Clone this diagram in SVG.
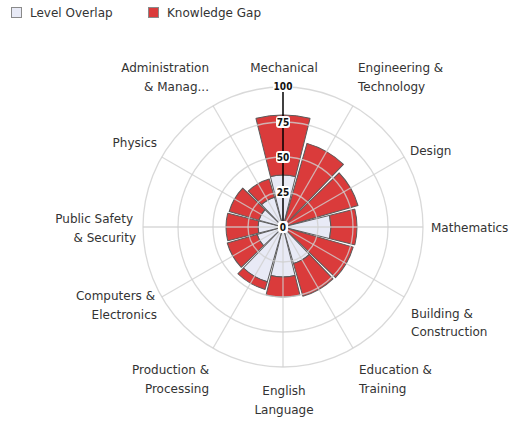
<svg xmlns="http://www.w3.org/2000/svg" width="510" height="422" viewBox="0 0 510 422">
<style>
.lbl{font-family:"DejaVu Sans","Liberation Sans",sans-serif;font-size:12px;fill:#333;}
.lv{fill:#E8EAF6;stroke:#5a5a5a;stroke-width:1;stroke-linejoin:round;}
.kg{fill:#DA3B3B;stroke:#5a5a5a;stroke-width:1;stroke-linejoin:round;}
.grid{fill:none;stroke:#cfcfcf;stroke-width:1.3;stroke-opacity:0.8;}
.ax{font-family:"DejaVu Sans Condensed","DejaVu Sans",sans-serif;font-stretch:condensed;font-weight:bold;font-size:10px;fill:#111;text-anchor:middle;}
.axbg{fill:#fff;}
</style>
<rect width="510" height="422" fill="#fff"/>
<g id="legend">
<rect x="11.5" y="7.5" width="10" height="10" fill="#E8EAF6" stroke="#8a8a8a"/>
<text class="lbl" x="30" y="17">Level Overlap</text>
<rect x="148.5" y="7.5" width="10" height="10" fill="#DA3B3B" stroke="#8a8a8a"/>
<text class="lbl" x="167" y="17">Knowledge Gap</text>
</g>
<g id="bars">
<g id="mechanical" transform="translate(283,227) rotate(0)">
<path class="lv" d="M0,0 L-12.58,-50.46 A52 52 0 0 1 12.58,-50.46 Z"/>
<path class="kg" d="M-12.58,-50.46 L-27.10,-108.67 A112 112 0 0 1 27.10,-108.67 L12.58,-50.46 A52 52 0 0 0 -12.58,-50.46 Z"/>
</g>
<g id="engineering" transform="translate(283,227) rotate(30)">
<path class="kg" d="M0,0 L-21.05,-84.42 A87 87 0 0 1 21.05,-84.42 Z"/>
</g>
<g id="design" transform="translate(283,227) rotate(60)">
<path class="kg" d="M0,0 L-18.87,-75.68 A78 78 0 0 1 18.87,-75.68 Z"/>
</g>
<g id="mathematics" transform="translate(283,227) rotate(90)">
<path class="lv" d="M0,0 L-11.61,-46.57 A48 48 0 0 1 11.61,-46.57 Z"/>
<path class="kg" d="M-11.61,-46.57 L-17.90,-71.80 A74 74 0 0 1 17.90,-71.80 L11.61,-46.57 A48 48 0 0 0 -11.61,-46.57 Z"/>
</g>
<g id="building" transform="translate(283,227) rotate(120)">
<path class="kg" d="M0,0 L-17.66,-70.83 A73 73 0 0 1 17.66,-70.83 Z"/>
</g>
<g id="education" transform="translate(283,227) rotate(150)">
<path class="lv" d="M0,0 L-9.19,-36.87 A38 38 0 0 1 9.19,-36.87 Z"/>
<path class="kg" d="M-9.19,-36.87 L-17.42,-69.86 A72 72 0 0 1 17.42,-69.86 L9.19,-36.87 A38 38 0 0 0 -9.19,-36.87 Z"/>
</g>
<g id="english" transform="translate(283,227) rotate(180)">
<path class="lv" d="M0,0 L-12.10,-48.52 A50 50 0 0 1 12.10,-48.52 Z"/>
<path class="kg" d="M-12.10,-48.52 L-16.93,-67.92 A70 70 0 0 1 16.93,-67.92 L12.10,-48.52 A50 50 0 0 0 -12.10,-48.52 Z"/>
</g>
<g id="production" transform="translate(283,227) rotate(210)">
<path class="lv" d="M0,0 L-13.79,-55.31 A57 57 0 0 1 13.79,-55.31 Z"/>
<path class="kg" d="M-13.79,-55.31 L-15.72,-63.07 A65 65 0 0 1 15.72,-63.07 L13.79,-55.31 A57 57 0 0 0 -13.79,-55.31 Z"/>
</g>
<g id="computers" transform="translate(283,227) rotate(240)">
<path class="lv" d="M0,0 L-6.53,-26.20 A27 27 0 0 1 6.53,-26.20 Z"/>
<path class="kg" d="M-6.53,-26.20 L-14.03,-56.28 A58 58 0 0 1 14.03,-56.28 L6.53,-26.20 A27 27 0 0 0 -6.53,-26.20 Z"/>
</g>
<g id="public-safety" transform="translate(283,227) rotate(270)">
<path class="lv" d="M0,0 L-6.05,-24.26 A25 25 0 0 1 6.05,-24.26 Z"/>
<path class="kg" d="M-6.05,-24.26 L-13.79,-55.31 A57 57 0 0 1 13.79,-55.31 L6.05,-24.26 A25 25 0 0 0 -6.05,-24.26 Z"/>
</g>
<g id="physics" transform="translate(283,227) rotate(300)">
<path class="lv" d="M0,0 L-6.05,-24.26 A25 25 0 0 1 6.05,-24.26 Z"/>
<path class="kg" d="M-6.05,-24.26 L-13.55,-54.34 A56 56 0 0 1 13.55,-54.34 L6.05,-24.26 A25 25 0 0 0 -6.05,-24.26 Z"/>
</g>
<g id="administration" transform="translate(283,227) rotate(330)">
<path class="lv" d="M0,0 L-7.50,-30.08 A31 31 0 0 1 7.50,-30.08 Z"/>
<path class="kg" d="M-7.50,-30.08 L-12.10,-48.52 A50 50 0 0 1 12.10,-48.52 L7.50,-30.08 A31 31 0 0 0 -7.50,-30.08 Z"/>
</g>
</g>
<g id="connectors" class="grid">
<circle cx="283" cy="227" r="35"/>
<circle cx="283" cy="227" r="70"/>
<circle cx="283" cy="227" r="105"/>
<circle cx="283" cy="227" r="140"/>
<line x1="283" y1="227" x2="353" y2="105.76"/>
<line x1="283" y1="227" x2="404.24" y2="157"/>
<line x1="283" y1="227" x2="423" y2="227"/>
<line x1="283" y1="227" x2="404.24" y2="297"/>
<line x1="283" y1="227" x2="353" y2="348.24"/>
<line x1="283" y1="227" x2="283" y2="367"/>
<line x1="283" y1="227" x2="213" y2="348.24"/>
<line x1="283" y1="227" x2="161.76" y2="297"/>
<line x1="283" y1="227" x2="143" y2="227"/>
<line x1="283" y1="227" x2="161.76" y2="157"/>
<line x1="283" y1="227" x2="213" y2="105.76"/>
</g>
<g id="axis">
<line x1="283" y1="227" x2="283" y2="87" stroke="#000" stroke-width="1.5"/>
<rect class="axbg" x="278" y="221" width="10" height="12" rx="3"/>
<text class="ax" x="283" y="230.5">0</text>
<rect class="axbg" x="276" y="186" width="14" height="12" rx="3"/>
<text class="ax" x="283" y="195.5">25</text>
<rect class="axbg" x="276" y="151" width="14" height="12" rx="3"/>
<text class="ax" x="283" y="160.5">50</text>
<rect class="axbg" x="276" y="116" width="14" height="12" rx="3"/>
<text class="ax" x="283" y="125.5">75</text>
<rect class="axbg" x="273" y="80" width="20" height="12" rx="3"/>
<text class="ax" x="283" y="89.5">100</text>
</g>
<g id="labels">
<text class="lbl" x="284" y="72" text-anchor="middle">Mechanical</text>
<text class="lbl" x="358" y="72">Engineering &amp;</text>
<text class="lbl" x="358" y="91">Technology</text>
<text class="lbl" x="410" y="155">Design</text>
<text class="lbl" x="431" y="232">Mathematics</text>
<text class="lbl" x="411" y="318">Building &amp;</text>
<text class="lbl" x="411" y="336">Construction</text>
<text class="lbl" x="359" y="374">Education &amp;</text>
<text class="lbl" x="359" y="393">Training</text>
<text class="lbl" x="284" y="395" text-anchor="middle">English</text>
<text class="lbl" x="284" y="414" text-anchor="middle">Language</text>
<text class="lbl" x="209" y="374" text-anchor="end">Production &amp;</text>
<text class="lbl" x="209" y="393" text-anchor="end">Processing</text>
<text class="lbl" x="155" y="300" text-anchor="end">Computers &amp;</text>
<text class="lbl" x="157" y="319" text-anchor="end">Electronics</text>
<text class="lbl" x="133" y="223" text-anchor="end">Public Safety</text>
<text class="lbl" x="136" y="242" text-anchor="end">&amp; Security</text>
<text class="lbl" x="157" y="147" text-anchor="end">Physics</text>
<text class="lbl" x="209" y="72" text-anchor="end">Administration</text>
<text class="lbl" x="209" y="91" text-anchor="end">&amp; Manag...</text>
</g>
</svg>
